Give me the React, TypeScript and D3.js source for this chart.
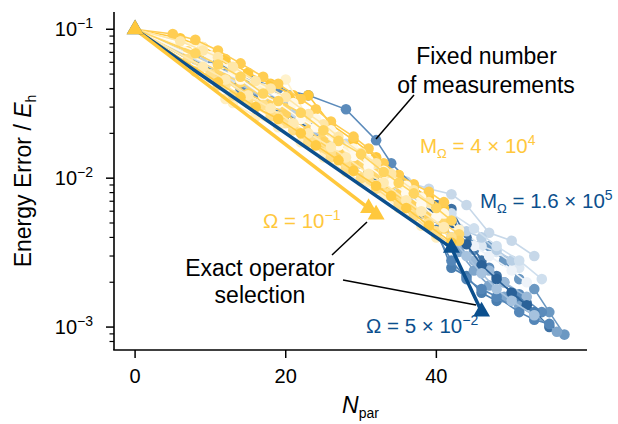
import * as d3 from "d3";

// M_Ω = 4 × 10^4 runs (yellow), each run is [Npar, energy error]
const yellowRuns: [number, number][][] = [
  [[0, 0.1], [6, 0.087], [9, 0.076], [12, 0.063], [15, 0.051], [18, 0.043], [21, 0.036], [23, 0.036], [26, 0.023], [29, 0.018], [32, 0.0138], [35, 0.0105], [37, 0.0087], [39, 0.0074], [41, 0.0063]],
  [[0, 0.1], [9, 0.076], [13, 0.052], [17, 0.04], [20, 0.046], [23, 0.025], [26, 0.019], [28, 0.0158], [31, 0.0126], [33, 0.0102], [36, 0.0083], [38, 0.0069], [41, 0.0055], [43, 0.0045]],
  [[0, 0.1], [7, 0.071], [11, 0.052], [14, 0.044], [17, 0.035], [20, 0.0295], [22, 0.025], [25, 0.019], [27, 0.0158], [30, 0.0126], [32, 0.0107], [34, 0.0091], [36, 0.0076], [38, 0.0063], [41, 0.005], [43, 0.0042]],
  [[0, 0.1], [10, 0.047], [12, 0.042], [15, 0.033], [18, 0.0275], [20, 0.0234], [23, 0.018], [25, 0.0158], [28, 0.012], [31, 0.0095], [33, 0.0083], [35, 0.0069], [37, 0.0058], [40, 0.0044]],
  [[0, 0.1], [12, 0.034], [13, 0.032], [16, 0.026], [19, 0.022], [22, 0.0174], [25, 0.0138], [28, 0.011], [30, 0.0095], [33, 0.0076], [35, 0.0063], [38, 0.0048], [40, 0.004]],
  [[0, 0.1], [5, 0.093], [8, 0.085], [11, 0.072], [14, 0.059], [17, 0.048], [19, 0.043], [22, 0.034], [24, 0.029], [26, 0.024], [29, 0.019], [31, 0.0158], [33, 0.0126], [35, 0.0105], [37, 0.0091], [39, 0.0081], [41, 0.0069]],
  [[0, 0.1], [10, 0.066], [13, 0.054], [16, 0.044], [21, 0.032], [24, 0.025], [26, 0.021], [29, 0.0158], [31, 0.0132], [33, 0.0112], [36, 0.0089], [38, 0.0074], [41, 0.0058]],
  [[0, 0.1], [12, 0.047], [15, 0.037], [18, 0.031], [20, 0.027], [23, 0.021], [25, 0.0174], [27, 0.0148], [29, 0.0126], [31, 0.011], [33, 0.0091], [35, 0.0078], [37, 0.0066], [39, 0.0055], [41, 0.0046], [43, 0.0038]],
  [[0, 0.1], [6, 0.083], [9, 0.072], [11, 0.065], [13, 0.056], [16, 0.045], [18, 0.04], [20, 0.035], [23, 0.027], [25, 0.023], [27, 0.019], [30, 0.0148], [32, 0.0126], [34, 0.0107], [37, 0.0083], [39, 0.0069]],
  [[0, 0.1], [8, 0.052], [11, 0.042], [13, 0.036], [15, 0.032], [18, 0.026], [21, 0.021], [23, 0.0174], [26, 0.0138], [28, 0.0115], [30, 0.01], [32, 0.0085], [35, 0.0066], [37, 0.0055], [40, 0.0042], [42, 0.0036]],
  [[0, 0.1], [14, 0.046], [17, 0.036], [19, 0.032], [22, 0.025], [24, 0.022], [27, 0.0166], [29, 0.0141], [31, 0.012], [34, 0.0093], [36, 0.0079], [38, 0.0066], [40, 0.0055]],
  [[0, 0.1], [7, 0.063], [10, 0.05], [12, 0.045], [15, 0.035], [17, 0.031], [19, 0.026], [21, 0.023], [24, 0.0178], [26, 0.0151], [28, 0.0126], [31, 0.0102], [34, 0.0079], [36, 0.0068], [39, 0.005], [42, 0.004]],
  [[0, 0.1], [8, 0.069], [11, 0.058], [14, 0.048], [17, 0.037], [19, 0.033], [22, 0.0275], [25, 0.021], [27, 0.0178], [30, 0.0145], [33, 0.011], [35, 0.0093], [37, 0.0079], [40, 0.0063], [42, 0.0052]],
  [[0, 0.1], [9, 0.056], [12, 0.046], [15, 0.036], [18, 0.0295], [21, 0.0234], [23, 0.02], [26, 0.0162], [28, 0.0138], [31, 0.0107], [33, 0.0093], [36, 0.0071], [38, 0.006], [41, 0.0047]],
  [[0, 0.1], [11, 0.044], [14, 0.035], [16, 0.03], [19, 0.025], [22, 0.02], [24, 0.0166], [27, 0.0132], [29, 0.0112], [32, 0.0089], [34, 0.0076], [36, 0.0063], [39, 0.0048], [42, 0.0037]],
];
const yellowShades = ["#FFC83C", "#FFF2CC", "#FFD76E", "#FFE39A", "#FFEFC2", "#FFCD52", "#FFF8E5", "#FFD260", "#FFE7A8", "#FFDC82", "#FFFAEE", "#FFE08E", "#FFD45F", "#FFEAB2", "#FFCB45"];

// M_Ω = 1.6 × 10^5 runs (blue)
const blueRuns: [number, number][][] = [
  [[0, 0.1], [10, 0.058], [16, 0.042], [22, 0.027], [28, 0.017], [33, 0.012], [36, 0.0095], [39, 0.0085], [42, 0.0078], [44, 0.0066], [47, 0.0043], [50, 0.0038], [53, 0.003]],
  [[0, 0.1], [12, 0.05], [18, 0.033], [24, 0.021], [30, 0.0135], [35, 0.0095], [38, 0.0072], [41, 0.0052], [44, 0.0039], [47, 0.0035], [49, 0.0028], [51, 0.0021], [53, 0.0018], [55, 0.00126], [57, 0.00089]],
  [[0, 0.1], [10, 0.062], [15, 0.047], [19, 0.04], [23, 0.036], [28, 0.029], [32, 0.018], [34, 0.0126], [37, 0.0089], [40, 0.0063], [43, 0.0045], [45, 0.0033], [47, 0.0025], [49, 0.002], [51, 0.00166], [54, 0.00126]],
  [[0, 0.1], [11, 0.05], [17, 0.034], [23, 0.022], [29, 0.0135], [34, 0.0095], [38, 0.0065], [41, 0.0053], [43, 0.0046], [46, 0.0035], [48, 0.0032], [51, 0.0025]],
  [[0, 0.1], [13, 0.046], [19, 0.03], [25, 0.019], [31, 0.0115], [36, 0.0078], [40, 0.0066], [42, 0.0062], [44, 0.004], [46, 0.0028], [48, 0.0022], [50, 0.0017], [52, 0.00145], [55, 0.001]],
  [[0, 0.1], [8, 0.063], [14, 0.045], [20, 0.03], [26, 0.019], [31, 0.012], [35, 0.0088], [38, 0.0065], [41, 0.0048], [43, 0.0035], [45, 0.0028], [47, 0.0024], [49, 0.002], [52, 0.0016]],
  [[0, 0.1], [14, 0.04], [20, 0.027], [26, 0.017], [32, 0.0105], [37, 0.0068], [40, 0.0045], [42, 0.0025], [44, 0.0022], [46, 0.0017], [48, 0.0015], [51, 0.00145], [53, 0.00126]],
  [[0, 0.1], [10, 0.055], [16, 0.038], [22, 0.025], [28, 0.0155], [33, 0.0105], [37, 0.0075], [40, 0.0058], [43, 0.0042], [45, 0.0035], [47, 0.003], [50, 0.0024], [52, 0.002]],
  [[0, 0.1], [11, 0.052], [17, 0.035], [23, 0.023], [29, 0.0145], [34, 0.0098], [38, 0.0068], [41, 0.005], [43, 0.0032], [45, 0.0024], [47, 0.0019], [49, 0.0016], [51, 0.00138], [53, 0.0012], [56, 0.00093]],
  [[0, 0.1], [9, 0.06], [15, 0.041], [21, 0.027], [27, 0.0168], [32, 0.0115], [36, 0.0082], [40, 0.006], [42, 0.0052], [44, 0.0044], [46, 0.004], [48, 0.0033], [50, 0.0028]],
  [[0, 0.1], [12, 0.048], [18, 0.032], [24, 0.02], [30, 0.0128], [35, 0.0087], [39, 0.0062], [42, 0.005], [44, 0.0036], [46, 0.0026], [48, 0.0021], [50, 0.0017], [52, 0.0014]],
  [[0, 0.1], [14, 0.041], [20, 0.027], [26, 0.0168], [31, 0.0112], [35, 0.0078], [38, 0.0058], [40, 0.0042], [42, 0.0028], [44, 0.0021], [46, 0.0018], [48, 0.0016], [51, 0.00126], [53, 0.00112], [55, 0.00105]],
  [[0, 0.1], [12, 0.049], [18, 0.032], [24, 0.021], [30, 0.0125], [34, 0.0092], [37, 0.0072], [40, 0.0054], [42, 0.004], [44, 0.003], [46, 0.0023], [48, 0.0018], [50, 0.0015], [53, 0.0012]],
  [[0, 0.1], [13, 0.047], [19, 0.031], [25, 0.019], [31, 0.0118], [35, 0.0088], [39, 0.0068], [42, 0.0058], [45, 0.0046], [48, 0.0035], [51, 0.0028], [54, 0.0021]],
];
const blueShades = ["#C7D8E9", "#6B98C2", "#5B8BBB", "#DCE7F2", "#3D71A4", "#9AB9D8", "#4A7EB0", "#EEF3F9", "#7EA5CB", "#B8CFE5", "#2A6198", "#5486B8", "#A6C2DE", "#CFDFEE"];

// exact operator selection
const exactYellow: [number, number][] = [[0, 0.1], [31, 0.0063], [32, 0.0057]];
const exactBlue: [number, number][] = [[0, 0.1], [42, 0.0034], [46, 0.00127]];

const xTicks = [0, 20, 40];
const yMajor = [1e-1, 1e-2, 1e-3];
const yExp = ["−1", "−2", "−3"];

const YELLOW = "#FFC83C";
const BLUE = "#0B4F8D";
const FONT = "'Liberation Sans', Arial, Helvetica, sans-serif";

export default function App() {
  const width = 618;
  const height = 424;

  const x = d3.scaleLinear().domain([-2.8, 60]).range([114, 587]);
  const y = d3.scaleLog().domain([10 ** -3.154, 10 ** -0.884]).range([350, 12]);

  const line = d3.line<[number, number]>()
    .x(d => x(d[0]))
    .y(d => y(d[1]));

  const tri = d3.symbol(d3.symbolTriangle, 125)();
  const minor = y.ticks().filter(t => !yMajor.some(m => Math.abs(m - t) / m < 1e-6));

  const run = (pts: [number, number][], color: string, key: string) => (
    <g key={key}>
      <path d={line(pts) || ""} fill="none" stroke={color} strokeWidth={1.6} />
      {pts.slice(1).map((p, i) => (
        <circle key={i} cx={x(p[0])} cy={y(p[1])} r={5.3} fill={color} />
      ))}
    </g>
  );

  return (
    <svg width={width} height={height} style={{ position: "absolute", left: 0, top: 0 }} fontFamily={FONT}>
      <rect width={width} height={height} fill="#fff" />

      {blueRuns.map((r, i) => run(r, blueShades[i], "b" + i))}
      {yellowRuns.map((r, i) => run(r, yellowShades[i], "y" + i))}

      <path d={line(exactBlue) || ""} fill="none" stroke={BLUE} strokeWidth={3.5} />
      <path d={line(exactYellow.slice(0, 2)) || ""} fill="none" stroke={YELLOW} strokeWidth={3.5} />
      {exactBlue.map((p, i) => (
        <path key={"tb" + i} d={tri || ""} transform={`translate(${x(p[0])},${y(p[1])})`} fill={BLUE} />
      ))}
      {exactYellow.map((p, i) => (
        <path key={"ty" + i} d={tri || ""} transform={`translate(${x(p[0])},${y(p[1])})`} fill={YELLOW} />
      ))}

      {/* axes */}
      <line x1={114} x2={114} y1={12} y2={350} stroke="#000" strokeWidth={1.6} />
      <line x1={113.2} x2={587} y1={350} y2={350} stroke="#000" strokeWidth={1.6} />
      {yMajor.map((t, i) => (
        <g key={"ym" + i}>
          <line x1={106} x2={114} y1={y(t)} y2={y(t)} stroke="#000" strokeWidth={1.5} />
          <text x={93} y={y(t) + 7} textAnchor="end" fontSize={20} fill="#000">
            <tspan>10</tspan>
            <tspan dy={-8} fontSize={14}>{yExp[i]}</tspan>
          </text>
        </g>
      ))}
      {minor.map((t, i) => (
        <line key={"yn" + i} x1={109.5} x2={114} y1={y(t)} y2={y(t)} stroke="#000" strokeWidth={1.2} />
      ))}
      {xTicks.map(t => (
        <g key={"xt" + t}>
          <line x1={x(t)} x2={x(t)} y1={350} y2={358} stroke="#000" strokeWidth={1.5} />
          <text x={x(t)} y={383} textAnchor="middle" fontSize={20} fill="#000">{t}</text>
        </g>
      ))}

      {/* axis labels */}
      <text x={342} y={413} fontSize={23} fill="#000">
        <tspan fontStyle="italic">N</tspan>
        <tspan dy={5} fontSize={14}>par</tspan>
      </text>
      <text transform="translate(31,181) rotate(-90)" textAnchor="middle" fontSize={23} fill="#000">
        <tspan>Energy Error / </tspan>
        <tspan fontStyle="italic">E</tspan>
        <tspan dy={5} fontSize={14}>h</tspan>
      </text>

      {/* annotations */}
      <text x={486.5} y={64} textAnchor="middle" fontSize={23} fill="#000">Fixed number</text>
      <text x={486} y={93} textAnchor="middle" fontSize={23} fill="#000">of measurements</text>
      <line x1={414} y1={95} x2={376} y2={139} stroke="#000" strokeWidth={1.5} />

      <text x={260} y={276} textAnchor="middle" fontSize={23} fill="#000">Exact operator</text>
      <text x={260} y={303} textAnchor="middle" fontSize={23} fill="#000">selection</text>
      <line x1={332} y1={255} x2={367} y2={222} stroke="#000" strokeWidth={1.5} />
      <line x1={343} y1={280} x2={476} y2={305} stroke="#000" strokeWidth={1.5} />

      <text x={420} y={152.5} fontSize={20.5} fill={YELLOW}>
        <tspan>M</tspan>
        <tspan dy={5} fontSize={13}>Ω</tspan>
        <tspan dy={-5}> = 4 × 10</tspan>
        <tspan dy={-8} fontSize={14}>4</tspan>
      </text>
      <text x={480} y={208} fontSize={20.5} fill={BLUE}>
        <tspan>M</tspan>
        <tspan dy={5} fontSize={13}>Ω</tspan>
        <tspan dy={-5}> = 1.6 × 10</tspan>
        <tspan dy={-8} fontSize={14}>5</tspan>
      </text>
      <text x={263} y={228} fontSize={20.5} fill={YELLOW}>
        <tspan>Ω = 10</tspan>
        <tspan dy={-8} fontSize={14}>−1</tspan>
      </text>
      <text x={366} y={333} fontSize={20.5} fill={BLUE}>
        <tspan>Ω = 5 × 10</tspan>
        <tspan dy={-8} fontSize={14}>−2</tspan>
      </text>
    </svg>
  );
}
